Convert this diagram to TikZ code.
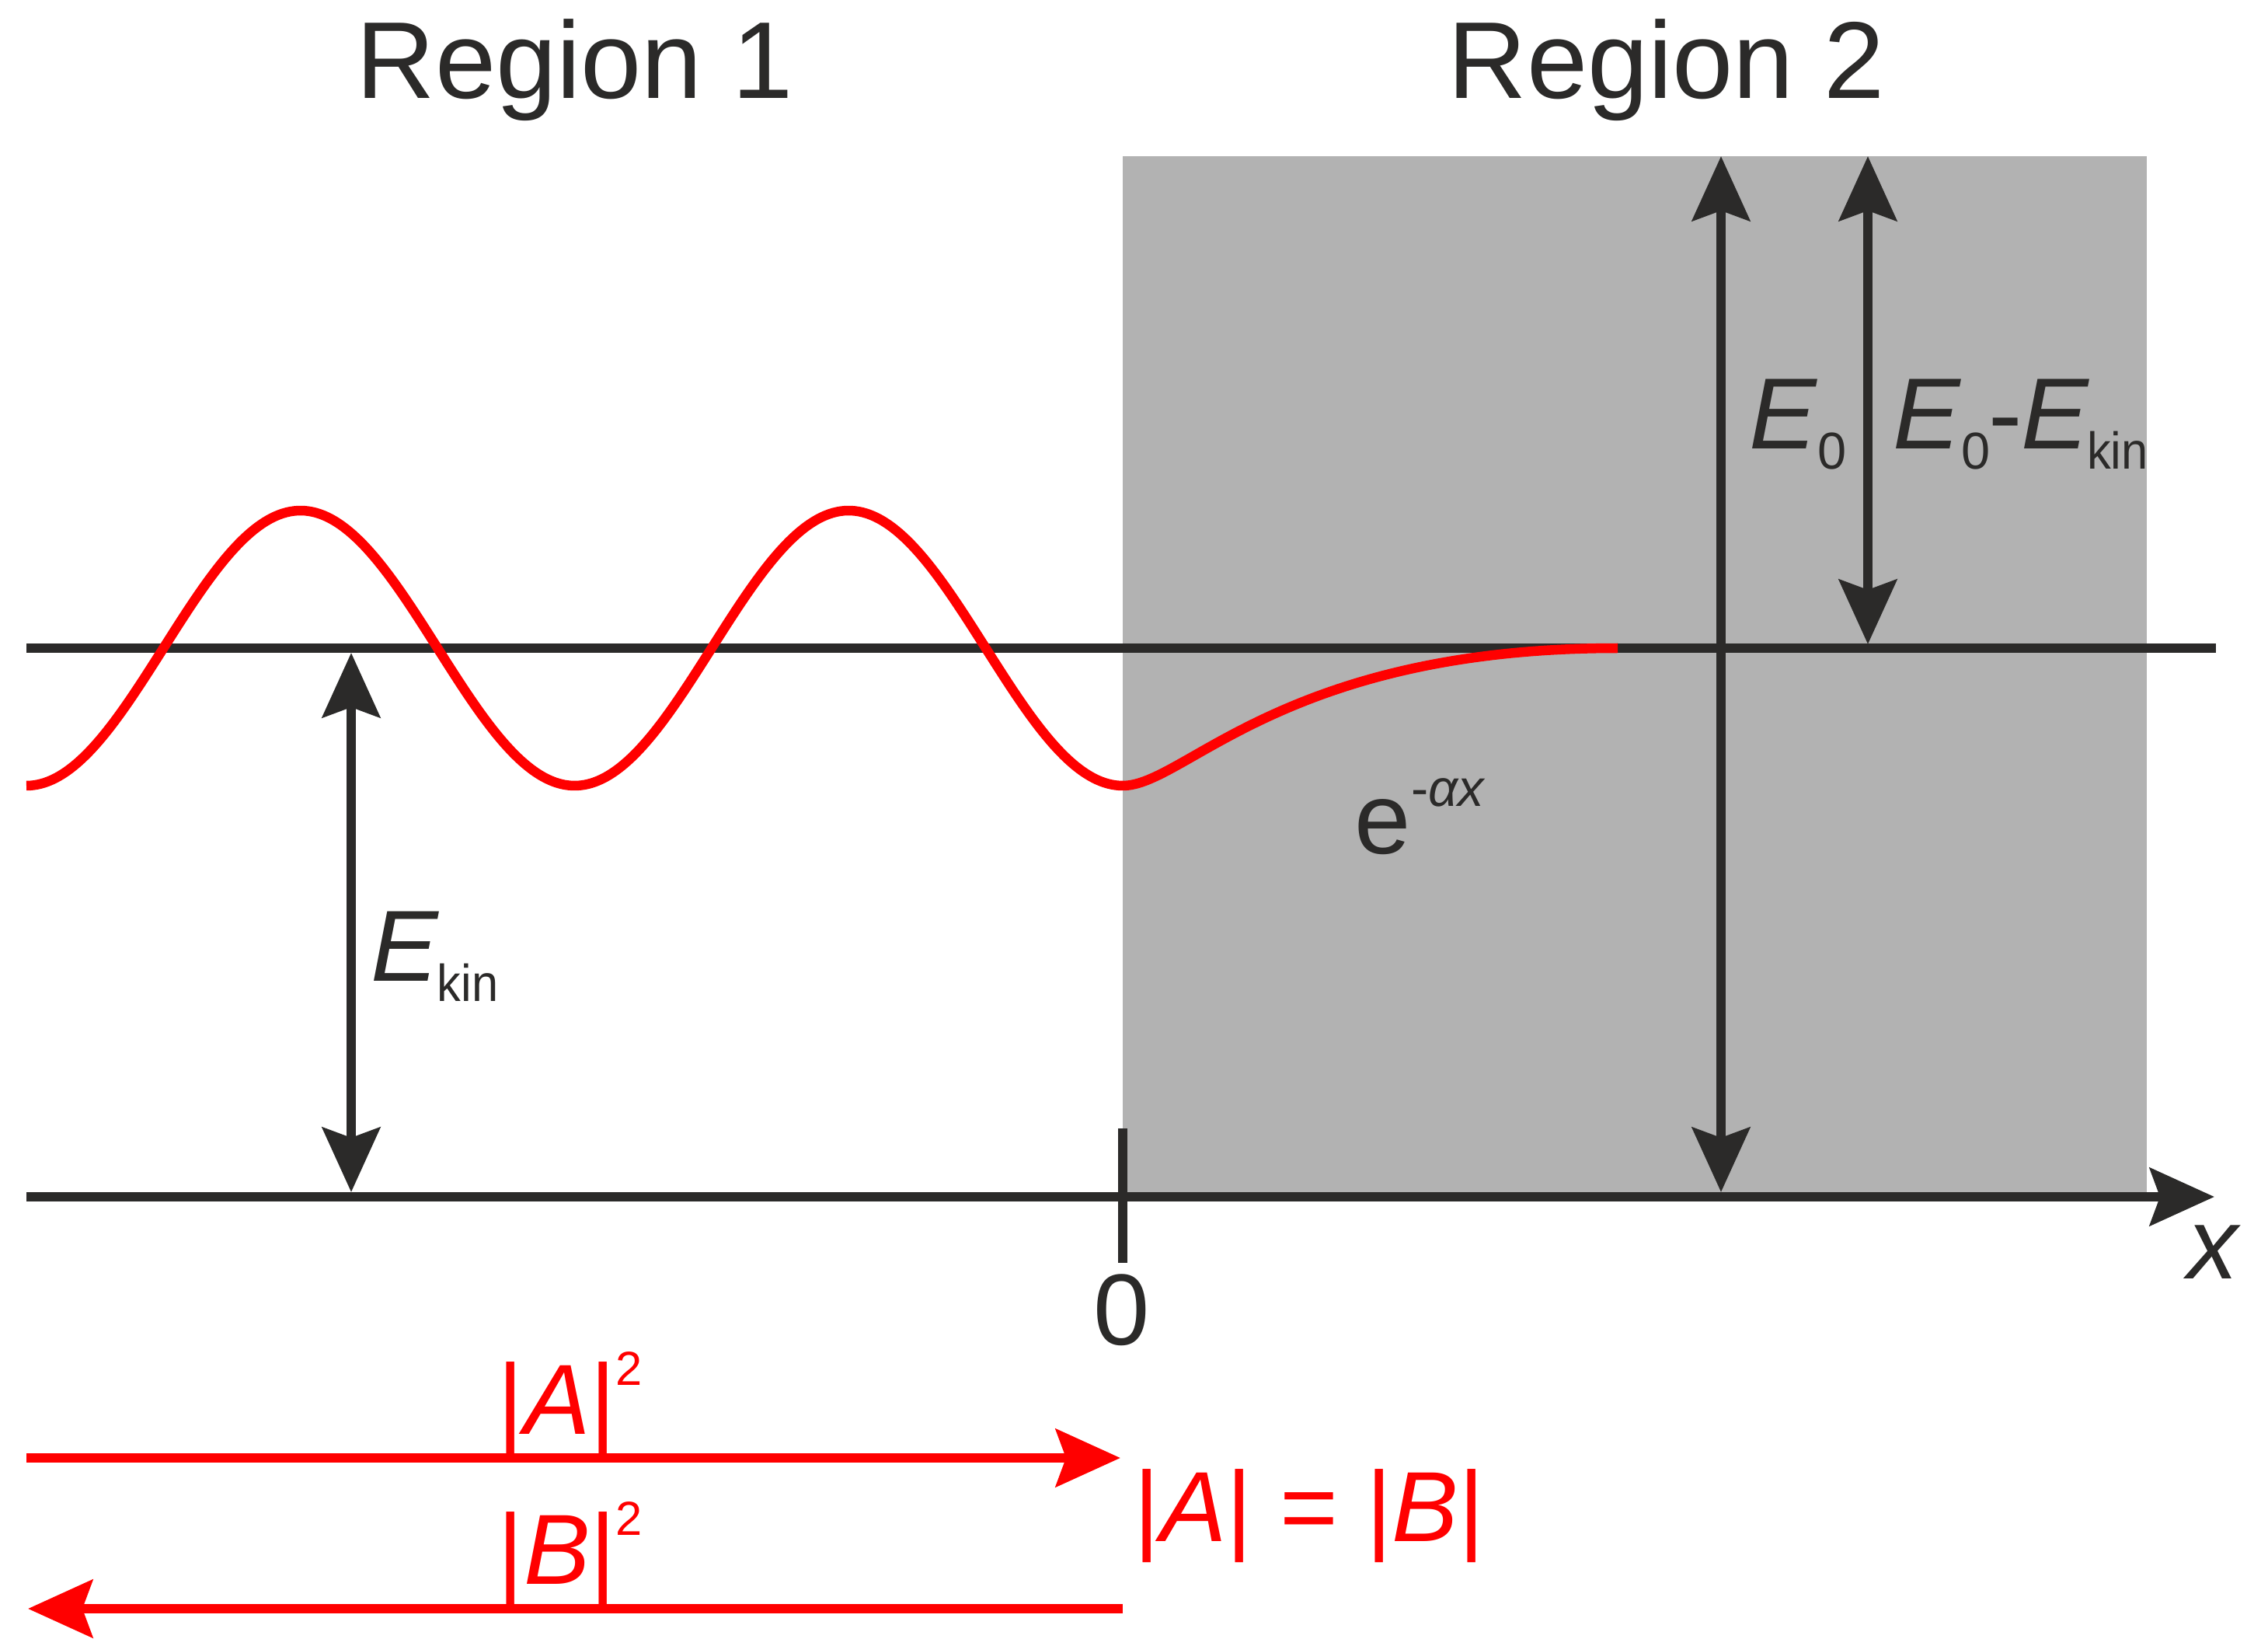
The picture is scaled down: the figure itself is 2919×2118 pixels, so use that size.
\documentclass[tikz,border=0pt]{standalone}
\usepackage{fontspec}
\setmainfont{Liberation Sans}
\usetikzlibrary{arrows.meta}
\definecolor{ink}{HTML}{2B2A29}
\definecolor{barriergray}{HTML}{B2B2B2}
\definecolor{wred}{HTML}{FF0000}
\newcommand\fbig{\fontsize{37}{44}\selectfont}
\newcommand\fsub{\fontsize{19}{22}\selectfont}
\newcommand\freg{\fontsize{40}{48}\selectfont}
\newcommand\kinsub{\raisebox{-2.6mm}{\fsub\kern-0.3mm\scalebox{0.92}[1]{kin}}}
\begin{document}
\begin{tikzpicture}[x=0.1mm, y=-0.1mm,
  tipA/.tip={Stealth[length=8.3mm,width=7.4mm,inset=1.3mm]},
  blk/.style={draw=ink, line width=1.25mm},
  redl/.style={draw=wred, line width=1.25mm},
  lbl/.style={inner sep=0pt, anchor=base west, text=ink},
  rlbl/.style={inner sep=0pt, anchor=base west, text=wred}]
\useasboundingbox (0,0) rectangle (2919,2118);
% barrier
\fill[fill=barriergray] (1445,201) rectangle (2763,1540);
% coordinates
\coordinate (lvlL) at (34,834);
\coordinate (lvlR) at (2852,834);
\coordinate (axL) at (34,1540);
\coordinate (axR) at (2850,1540);
\coordinate (tickT) at (1445,1452);
\coordinate (tickB) at (1445,1625);
\coordinate (ekT) at (452,840);
\coordinate (ekB) at (452,1534);
\coordinate (e0T) at (2215,201);
\coordinate (e0B) at (2215,1534);
\coordinate (e0kT) at (2404,201);
\coordinate (e0kB) at (2404,829);
\coordinate (aL) at (34,1876);
\coordinate (aR) at (1442,1876);
\coordinate (bL) at (36,2070);
\coordinate (bR) at (1445,2070);
% lines
\draw[blk] (lvlL) -- (lvlR);
\draw[blk, -tipA] (axL) -- (axR);
\draw[blk] (tickT) -- (tickB);
% wave
\draw[redl, line join=round]
  plot[domain=34:1445, samples=300] (\x, {834+177*cos(0.510276*(\x-34))})
  .. controls (1525,1011) and (1650,834) .. (2082,834);
% energy arrows
\draw[blk, tipA-tipA] (ekT) -- (ekB);
\draw[blk, tipA-tipA] (e0T) -- (e0B);
\draw[blk, tipA-tipA] (e0kT) -- (e0kB);
% red arrows
\draw[redl, -tipA] (aL) -- (aR);
\draw[redl, -tipA] (bR) -- (bL);
% labels
\node[inner sep=0pt, anchor=base, text=ink] (reg1) at (740,127) {\freg Region 1};
\node[inner sep=0pt, anchor=base, text=ink] (reg2) at (2145,127) {\freg Region 2};
\node[lbl] (le0) at (2251,578) {\fbig\textit{E}\raisebox{-2.6mm}{\fsub 0}};
\node[lbl] (le0k) at (2436,578) {\fbig\textit{E}\raisebox{-2.6mm}{\fsub 0}\kern-0.2mm-\kern-0.2mm\textit{E}\kinsub};
\node[lbl] (lek) at (477,1262) {\fbig\textit{E}\kinsub};
\node[lbl] (lexp) at (1743,1098) {\fbig e\raisebox{6.1mm}{\fsub -\textit{αx}}};
\node[inner sep=0pt, anchor=base, text=ink] (lzero) at (1444,1730) {\fbig 0};
\node[inner sep=0pt, anchor=base, text=ink] (lx) at (2850,1645) {\fbig\textit{x}};
\node[rlbl] (lA) at (640,1845) {\fontsize{36.5}{44}\selectfont |\textit{A}|\raisebox{6.3mm}{\fontsize{17.5}{20}\selectfont 2}};
\node[rlbl] (lB) at (640,2038) {\fontsize{36.5}{44}\selectfont |\textit{B}|\raisebox{6.3mm}{\fontsize{17.5}{20}\selectfont 2}};
\node[rlbl] (lAB) at (1459,1983) {\fontsize{36.5}{44}\selectfont |\textit{A}| = |\textit{B}|};
\end{tikzpicture}
\end{document}
